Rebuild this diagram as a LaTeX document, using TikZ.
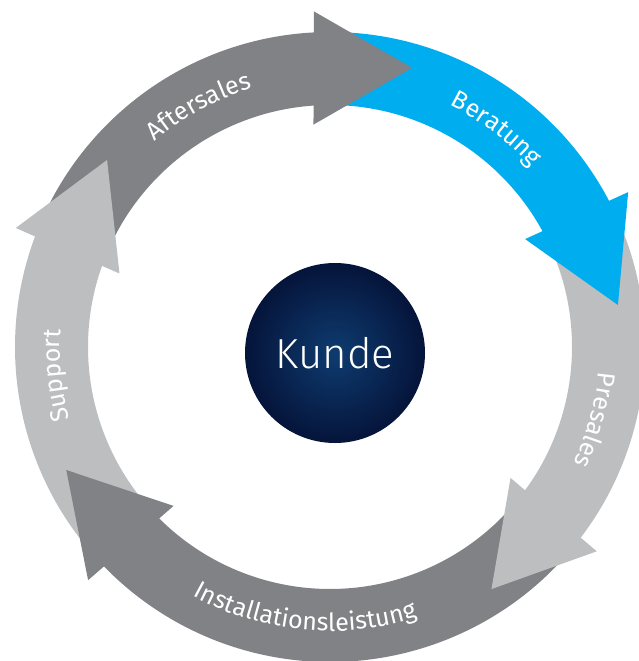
\documentclass[tikz,border=0pt]{standalone}
\usepackage{fontspec}
\setmainfont{Fira Sans Light}
\newfontfamily\lblfam{Fira Sans}
\usetikzlibrary{decorations.text}
\definecolor{dgray}{RGB}{128,130,133}
\definecolor{lgray}{RGB}{188,190,192}
\definecolor{cblue}{RGB}{0,173,239}
\definecolor{navyin}{RGB}{14,60,112}
\definecolor{navyout}{RGB}{5,20,58}
\newcommand\lblfont{\lblfam\fontsize{25bp}{25bp}\selectfont}
% body of a ring segment: colour, start angle, head base angle
\newcommand\ringbody[3]{%
  \fill[#1] (#2:315bp) arc[start angle=#2, end angle=#3-2, radius=315bp]
    -- (#3-2:242bp) arc[start angle=#3-2, end angle=#2, radius=242bp] -- cycle;}
% arrow head: colour, base angle, tip angle
\newcommand\ringhead[3]{%
  \fill[#1] (#2+0.75:223bp) -- (#2-0.75:336bp) -- (#3:291bp) -- cycle;}
% label along arc: centre angle, radius, text, direction (+1 clockwise, -1 ccw)
\newcommand\ringlabel[4]{%
  \path[decorate, decoration={text along path, text align=center, text color=white,
      text={|\lblfont|#3}}]
    (#1+#4*40:#2) arc[start angle=#1+#4*40, end angle=#1-#4*40, radius=#2];}
\begin{document}
\begin{tikzpicture}[x=1bp,y=1bp]
\useasboundingbox (0,0) rectangle (639,-661);
\begin{scope}[shift={(330,-347)}]
  % bodies
  \ringbody{dgray}{157}{93.5}
  \ringbody{cblue}{90}{28.2}
  \ringbody{lgray}{25}{-36.7}
  \ringbody{dgray}{-40}{-135.3}
  \ringbody{lgray}{222}{160}
  % heads
  \ringhead{dgray}{93.5}{73.6}
  \ringhead{cblue}{28.2}{8.3}
  \ringhead{lgray}{-36.7}{-56.3}
  \ringhead{dgray}{224.7}{205}
  \ringhead{lgray}{160}{140}
  % labels
  \ringlabel{118.6}{270bp}{Aftersales}{1}
  \ringlabel{52.7}{270bp}{Beratung}{1}
  \ringlabel{-15.4}{270bp}{Presales}{1}
  \ringlabel{-95.5}{284bp}{Installationsleistung}{-1}
  \ringlabel{186}{270bp}{Support}{1}
\end{scope}
\node[circle, minimum size=180bp, inner sep=0pt, inner color=navyin, outer color=navyout,
  text=white, font=\fontsize{42bp}{42bp}\selectfont] (kunde) at (335,-353) {Kunde};
\end{tikzpicture}
\end{document}
